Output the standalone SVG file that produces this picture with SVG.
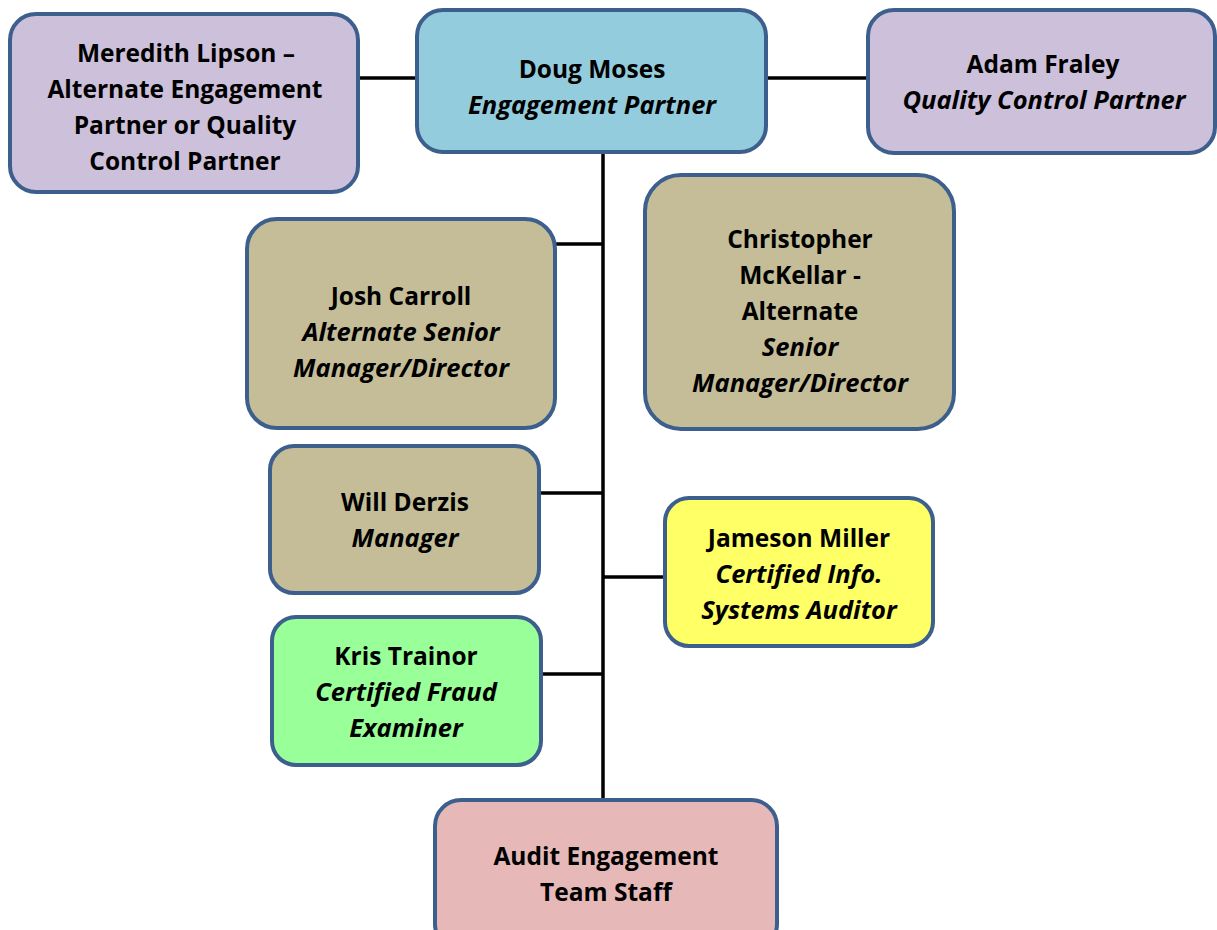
<svg xmlns="http://www.w3.org/2000/svg" width="1217" height="930" viewBox="0 0 1217 930">
  <style>
    .box { stroke: #3c5f8d; stroke-width: 4; }
    .purple { fill: #ccc0da; }
    .blue { fill: #93cddd; }
    .tan { fill: #c4bd97; }
    .yellow { fill: #ffff66; }
    .green { fill: #99ff99; }
    .pink { fill: #e6b9b8; }
    text { font-family: "Open Sans", Lato, sans-serif; font-size: 24.5px; font-weight: bold; fill: #000; text-anchor: middle; }
    .it { font-style: italic; font-size: 25.5px; }
    .link { stroke: #000; stroke-width: 3.5; fill: none; }
  </style>

  <g id="connectors">
    <line class="link" x1="358" y1="78" x2="417" y2="78"/>
    <line class="link" x1="766" y1="78" x2="868" y2="78"/>
    <line class="link" x1="603" y1="152" x2="603" y2="800"/>
    <line class="link" x1="555" y1="244" x2="603" y2="244"/>
    <line class="link" x1="539" y1="493" x2="603" y2="493"/>
    <line class="link" x1="603" y1="577" x2="665" y2="577"/>
    <line class="link" x1="541" y1="674" x2="603" y2="674"/>
  </g>

  <g id="meredith">
    <rect class="box purple" x="10" y="14" width="348" height="178" rx="26"/>
    <text x="186" y="62">Meredith Lipson –</text>
    <text x="185" y="98">Alternate Engagement</text>
    <text x="185" y="134">Partner or Quality</text>
    <text x="185" y="170">Control Partner</text>
  </g>

  <g id="doug">
    <rect class="box blue" x="417" y="10" width="349" height="142" rx="26"/>
    <text x="592" y="78">Doug Moses</text>
    <text class="it" x="592" y="114">Engagement Partner</text>
  </g>

  <g id="adam">
    <rect class="box purple" x="868" y="10" width="347" height="143" rx="26"/>
    <text x="1043" y="73">Adam Fraley</text>
    <text class="it" x="1044" y="109">Quality Control Partner</text>
  </g>

  <g id="josh">
    <rect class="box tan" x="247" y="219" width="308" height="209" rx="30"/>
    <text x="401" y="305">Josh Carroll</text>
    <text class="it" x="401" y="341">Alternate Senior</text>
    <text class="it" x="401" y="377">Manager/Director</text>
  </g>

  <g id="christopher">
    <rect class="box tan" x="645" y="175" width="309" height="254" rx="36"/>
    <text x="800" y="248">Christopher</text>
    <text x="800" y="284">McKellar -</text>
    <text x="800" y="320">Alternate</text>
    <text class="it" x="800" y="356">Senior</text>
    <text class="it" x="800" y="392">Manager/Director</text>
  </g>

  <g id="will">
    <rect class="box tan" x="270" y="446" width="269" height="147" rx="24"/>
    <text x="405" y="511">Will Derzis</text>
    <text class="it" x="405" y="547">Manager</text>
  </g>

  <g id="jameson">
    <rect class="box yellow" x="665" y="498" width="268" height="148" rx="24"/>
    <text x="799" y="547">Jameson Miller</text>
    <text class="it" x="799" y="583">Certified Info.</text>
    <text class="it" x="799" y="619">Systems Auditor</text>
  </g>

  <g id="kris">
    <rect class="box green" x="272" y="617" width="269" height="148" rx="24"/>
    <text x="406" y="665">Kris Trainor</text>
    <text class="it" x="406" y="701">Certified Fraud</text>
    <text class="it" x="406" y="737">Examiner</text>
  </g>

  <g id="audit">
    <rect class="box pink" x="435" y="800" width="342" height="150" rx="26"/>
    <text x="606" y="865">Audit Engagement</text>
    <text x="606" y="901">Team Staff</text>
  </g>
</svg>
